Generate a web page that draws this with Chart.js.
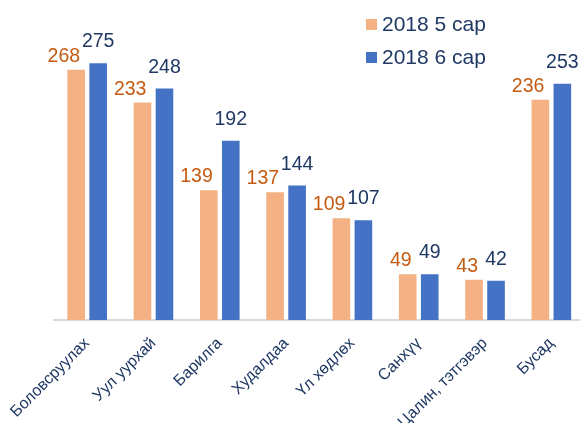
<!DOCTYPE html>
<html>
<head>
<meta charset="utf-8">
<script src="https://cdn.jsdelivr.net/npm/chart.js@4"></script>
<style>
  html, body { margin: 0; padding: 0; overflow: hidden; background: #fff; }
  #wrap { width: 590px; height: 423px; position: relative; }
</style>
</head>
<body>
<div id="wrap"><canvas id="chartSectors"></canvas></div>
<script>
const categories = ['Боловсруулах', 'Уул уурхай', 'Барилга', 'Худалдаа', 'Үл хөдлөх', 'Санхүү', 'Цалин, тэтгэвэр', 'Бусад'];
const seriesNames = ['2018 5 сар', '2018 6 сар'];
const valuesMay = [268, 233, 139, 137, 109, 49, 43, 236];
const valuesJune = [275, 248, 192, 144, 107, 49, 42, 253];

const FONT = 'Arial, "Liberation Sans", sans-serif';
const navy = '#1F3864';
const labelColors = ['#C55A11', '#1F3864'];
// orange labels sit right-aligned a bit left of their bar, blue ones centered and higher
const labelPlace = [{ align: 'right', dx: 4, dy: -8 }, { align: 'center', dx: 0, dy: -16 }];

// value labels above the bars
const valueLabels = {
  id: 'valueLabels',
  afterDatasetsDraw(chart) {
    const ctx = chart.ctx;
    ctx.save();
    ctx.font = '19.5px ' + FONT;
    ctx.textBaseline = 'alphabetic';
    chart.data.datasets.forEach((ds, i) => {
      const meta = chart.getDatasetMeta(i);
      const p = labelPlace[i];
      ctx.fillStyle = labelColors[i];
      ctx.textAlign = p.align;
      meta.data.forEach((bar, j) => {
        ctx.fillText(ds.data[j], bar.x + p.dx, bar.y + p.dy);
      });
    });
    ctx.restore();
  }
};

// legend drawn as a vertical list in the top right
const sideLegend = {
  id: 'sideLegend',
  afterDraw(chart) {
    const ctx = chart.ctx;
    ctx.save();
    ctx.font = '21px ' + FONT;
    ctx.textBaseline = 'middle';
    ctx.textAlign = 'left';
    chart.data.datasets.forEach((ds, i) => {
      const y = 24 + i * 33;
      ctx.fillStyle = ds.backgroundColor;
      ctx.fillRect(366, y - 5, 11, 11);
      ctx.fillStyle = navy;
      ctx.fillText(ds.label, 382, y + 1);
    });
    ctx.restore();
  }
};

const ctx1 = document.getElementById('chartSectors').getContext('2d');

new Chart(ctx1, {
  type: 'bar',
  data: {
    labels: categories,
    datasets: [
      {
        label: seriesNames[0],
        data: valuesMay,
        backgroundColor: '#F4B183',
        categoryPercentage: 0.664,
        barPercentage: 0.8
      },
      {
        label: seriesNames[1],
        data: valuesJune,
        backgroundColor: '#4472C4',
        categoryPercentage: 0.664,
        barPercentage: 0.8
      }
    ]
  },
  options: {
    responsive: true,
    maintainAspectRatio: false,
    animation: false,
    layout: { padding: { top: 40, left: 54, right: 5.5, bottom: 0 } },
    plugins: {
      legend: { display: false },
      tooltip: { enabled: false }
    },
    scales: {
      x: {
        grid: { display: false, drawTicks: false },
        border: { display: true, color: '#D9D9D9', width: 2 },
        ticks: {
          color: navy,
          font: { family: FONT, size: 16 },
          minRotation: 45,
          maxRotation: 45,
          autoSkip: false,
          padding: 14
        },
        afterFit(scale) {
          // fixed axis band, and don't let the rotated first label push the plot right
          scale.height = 103;
          scale.paddingLeft = 0;
          scale.paddingRight = 0;
        }
      },
      y: {
        display: false,
        min: 0,
        max: 300
      }
    }
  },
  plugins: [valueLabels, sideLegend]
});
</script>
</body>
</html>
